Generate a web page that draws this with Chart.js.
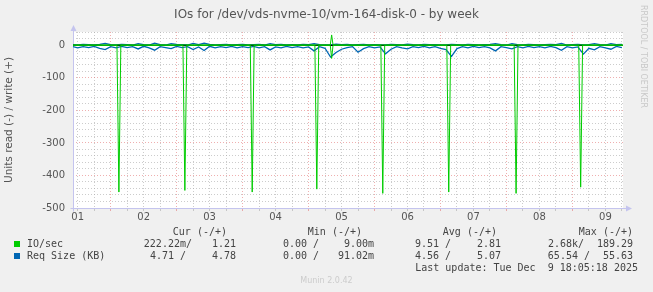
<!DOCTYPE html>
<html>
<head>
<meta charset="utf-8">
<script src="https://cdn.jsdelivr.net/npm/chart.js@4.4.1/dist/chart.umd.min.js"></script>
<style>
  html, body { margin: 0; padding: 0; background: #f0f0f0; }
  #wrap { position: relative; width: 653px; height: 292px; overflow: hidden; }
  #wrap canvas { position: absolute; left: 0; top: 0; }
  .t { position: absolute; white-space: pre; line-height: 12px; }
  .mono { font-family: "DejaVu Sans Mono", monospace; font-size: 10px; color: #444; }
  .box { position: absolute; width: 6px; height: 6px; }
</style>
</head>
<body>
<div id="wrap">
  <canvas id="grafico" width="653" height="292"></canvas>
</div>
<script>
// hours since Dec 1 00:00
const xMin = 10.3, xMax = 210.4;

// IO/sec, read (-) drawn below zero, write (+) above
const ioReadHours  = [10.3, 26.3, 27, 27.7, 50.3, 51, 51.7, 74.8, 75.5, 76.2, 98.3, 99, 99.7,
                      103.9, 104.4, 104.9, 122.3, 123, 123.7, 146.3, 147, 147.7,
                      170.8, 171.5, 172.2, 194.3, 195, 195.7, 210.4];
const ioReadValues = [0, 0, -451, 0, 0, -446, 0, 0, -451, 0, 0, -442, 0,
                      0, -40, 0, 0, -455, 0, 0, -451, 0,
                      0, -455, 0, 0, -436, 0, 0];
const ioWriteHours  = [10.3, 103.9, 104.4, 104.9, 210.4];
const ioWriteValues = [1.2, 1.2, 32, 1.2, 1.2];

// Req Size (KB), one sample every 2 hours starting at hour 10
const reqStart = 10, reqStep = 2;
const reqWrite = [2, 1, 3, 2, 1, 3, 6, 2, 1, 3, 2, 1, 5, 2, 1, 7, 2, 1, 5, 3,
                  2, 1, 6, 2, 7, 3, 1, 2, 3, 1, 2, 3, 1, 2, 3, 1, 5, 2, 3, 1,
                  2, 1, 3, 2, 5, 2, 1, 1, 4, 2, 3, 1, 2, 3, 1, 2, 1, 1, 3, 2,
                  1, 4, 2, 1, 3, 2, 2, 1, 1, 3, 2, 1, 3, 2, 1, 2, 3, 5, 2, 1,
                  5, 2, 1, 3, 2, 1, 2, 3, 2, 6, 1, 2, 3, 1, 2, 5, 2, 1, 5, 2, 3];
const reqRead  = [-3, -8, -4, -7, -3, -9, -13, -4, -8, -3, -7, -4, -11, -3, -8, -15, -4, -7, -10, -3,
                  -7, -4, -13, -5, -16, -3, -8, -4, -7, -3, -8, -4, -7, -3, -8, -4, -14, -5, -8, -3,
                  -7, -4, -8, -5, -17, -4, -9, -36, -22, -12, -7, -4, -21, -10, -4, -8, -5, -26, -12, -4,
                  -8, -11, -4, -7, -3, -8, -4, -9, -13, -34, -10, -4, -8, -3, -7, -4, -8, -17, -4, -7,
                  -11, -4, -8, -3, -7, -4, -8, -3, -7, -15, -4, -8, -5, -27, -9, -14, -4, -8, -12, -3, -7];

// legend stats
const seriesNames = ['IO/sec', 'Req Size (KB)'];
const seriesColors = ['#00cc00', '#0066b3'];
const statHeaders = ['Cur (-/+)', 'Min (-/+)', 'Avg (-/+)', 'Max (-/+)'];
const statRows = [
  [['222.22m/', '1.21'], ['0.00 /', '9.00m'], ['9.51 /', '2.81'], ['2.68k/', '189.29']],
  [['4.71 /', '4.78'], ['0.00 /', '91.02m'], ['4.56 /', '5.07'], ['65.54 /', '55.63']]
];
const lastUpdate = 'Last update: Tue Dec  9 18:05:18 2025';

const pts = (xs, ys) => xs.map((x, i) => ({x: x, y: ys[i]}));
const reqPts = vals => vals.map((v, i) => ({x: reqStart + i * reqStep, y: v}));

const wrap = document.getElementById('wrap');
function texto(txt, cls, css) {
  const d = document.createElement('div');
  d.className = 't ' + cls;
  d.textContent = txt;
  Object.assign(d.style, css);
  wrap.appendChild(d);
  return d;
}

// titulo
texto('IOs for /dev/vds-nvme-10/vm-164-disk-0 - by week', '', {
  left: '0px', width: '653px', top: '7px', textAlign: 'center',
  font: '12px "DejaVu Sans"', color: '#555'
});
// marca vertical rrdtool
texto('RRDTOOL / TOBI OETIKER', '', {
  left: '638px', top: '5px', writingMode: 'vertical-rl',
  font: '8px "DejaVu Sans"', color: '#c8c8c8', lineHeight: '10px'
});

// leyenda
const colRight = [227, 362, 497, 633];
const valRight = [[186, 236], [319, 374], [451, 501], [584, 633]];
statHeaders.forEach((h, i) => texto(h, 'mono', {right: (653 - colRight[i]) + 'px', top: '226px'}));
seriesNames.forEach((n, r) => {
  const y = 238 + r * 12;
  const b = document.createElement('div');
  b.className = 'box';
  Object.assign(b.style, {left: '14px', top: (y + 3) + 'px', background: seriesColors[r]});
  wrap.appendChild(b);
  texto(n, 'mono', {left: '27px', top: y + 'px'});
  statRows[r].forEach((pair, c) => {
    texto(pair[0], 'mono', {right: (653 - valRight[c][0] + (pair[0].length > 6 ? -6 : 0)) + 'px', top: y + 'px'});
    texto(pair[1], 'mono', {right: (653 - valRight[c][1]) + 'px', top: y + 'px'});
  });
});
texto(lastUpdate, 'mono', {right: '15px', top: '262px'});
texto('Munin 2.0.42', '', {left: '0px', width: '653px', top: '276px', textAlign: 'center',
  font: '8px "DejaVu Sans"', color: '#cccccc'});

// fondo blanco y ejes con flecha
const ejesMunin = {
  id: 'ejesMunin',
  beforeDraw(chart) {
    const {ctx, chartArea: a} = chart;
    ctx.save();
    ctx.fillStyle = '#ffffff';
    ctx.fillRect(a.left, a.top, a.right - a.left, a.bottom - a.top);
    ctx.restore();
  },
  beforeDatasetsDraw(chart) {
    const {ctx, chartArea: a} = chart;
    const yb = Math.round(a.bottom) + 0.5, xl = Math.round(a.left) + 0.5;
    ctx.save();
    ctx.strokeStyle = '#c4c4ee';
    ctx.fillStyle = '#c4c4ee';
    ctx.lineWidth = 1;
    ctx.beginPath();
    ctx.moveTo(xl - 3, yb); ctx.lineTo(a.right + 4, yb);
    ctx.moveTo(xl, yb + 3); ctx.lineTo(xl, a.top - 2);
    ctx.stroke();
    ctx.beginPath();
    ctx.moveTo(a.right + 9, yb); ctx.lineTo(a.right + 3, yb - 3); ctx.lineTo(a.right + 3, yb + 3);
    ctx.fill();
    ctx.beginPath();
    ctx.moveTo(xl, a.top - 7); ctx.lineTo(xl - 3, a.top - 1); ctx.lineTo(xl + 3, a.top - 1);
    ctx.fill();
    ctx.restore();
  }
};

const rojo = 'rgba(226, 110, 110, 0.55)';
const gris = 'rgba(170, 170, 170, 0.6)';

new Chart(document.getElementById('grafico').getContext('2d'), {
  type: 'line',
  data: {
    datasets: [
      { label: 'IO/sec read', data: pts(ioReadHours, ioReadValues), borderColor: '#00cc00', order: 0 },
      { label: 'IO/sec write', data: pts(ioWriteHours, ioWriteValues), borderColor: '#00cc00', order: 1 },
      { label: 'zero', data: [{x: xMin, y: 0}, {x: xMax, y: 0}], borderColor: '#000000', borderWidth: 1.3, order: 2 },
      { label: 'Req Size write', data: reqPts(reqWrite), borderColor: '#0066b3', borderWidth: 1.3, order: 3 },
      { label: 'Req Size read', data: reqPts(reqRead), borderColor: '#0066b3', borderWidth: 1.3, order: 4 }
    ]
  },
  options: {
    responsive: false,
    animation: false,
    events: [],
    layout: { padding: { left: 0, top: 32, right: 30, bottom: 61 } },
    elements: {
      line: { borderWidth: 1, tension: 0, fill: false },
      point: { radius: 0 }
    },
    plugins: { legend: { display: false }, tooltip: { enabled: false } },
    scales: {
      x: {
        type: 'linear',
        min: xMin, max: xMax,
        afterBuildTicks: s => {
          const t = [];
          for (let h = 12; h <= xMax; h += 6) t.push({value: h});
          s.ticks = t;
        },
        afterFit: s => { s.height = 23; },
        grid: {
          color: c => c.tick && c.tick.value % 24 === 0 ? rojo : gris,
          drawTicks: true, tickLength: 3
        },
        border: { display: false, dash: [1, 2] },
        ticks: {
          autoSkip: false, maxRotation: 0, padding: 0,
          color: '#555', font: { family: 'DejaVu Sans', size: 10 },
          callback: v => v % 24 === 12 ? String(Math.floor(v / 24) + 1).padStart(2, '0') : ''
        }
      },
      y: {
        min: -500, max: 41,
        afterBuildTicks: s => {
          const t = [];
          for (let v = -500; v <= 40; v += 20) t.push({value: v});
          s.ticks = t;
        },
        afterFit: s => { s.width = 73; },
        grid: {
          color: c => c.tick && c.tick.value % 100 === 0 ? rojo : gris,
          drawTicks: false
        },
        border: { display: false, dash: [1, 2] },
        ticks: {
          autoSkip: false,
          padding: 8,
          color: '#555', font: { family: 'DejaVu Sans', size: 10 },
          callback: v => v % 100 === 0 ? String(v) : ''
        },
        title: {
          display: true, text: 'Units read (-) / write (+)',
          color: '#555', font: { family: 'DejaVu Sans', size: 10.5 },
          padding: { top: 3, bottom: 0 }
        }
      }
    }
  },
  plugins: [ejesMunin]
});
</script>
</body>
</html>
